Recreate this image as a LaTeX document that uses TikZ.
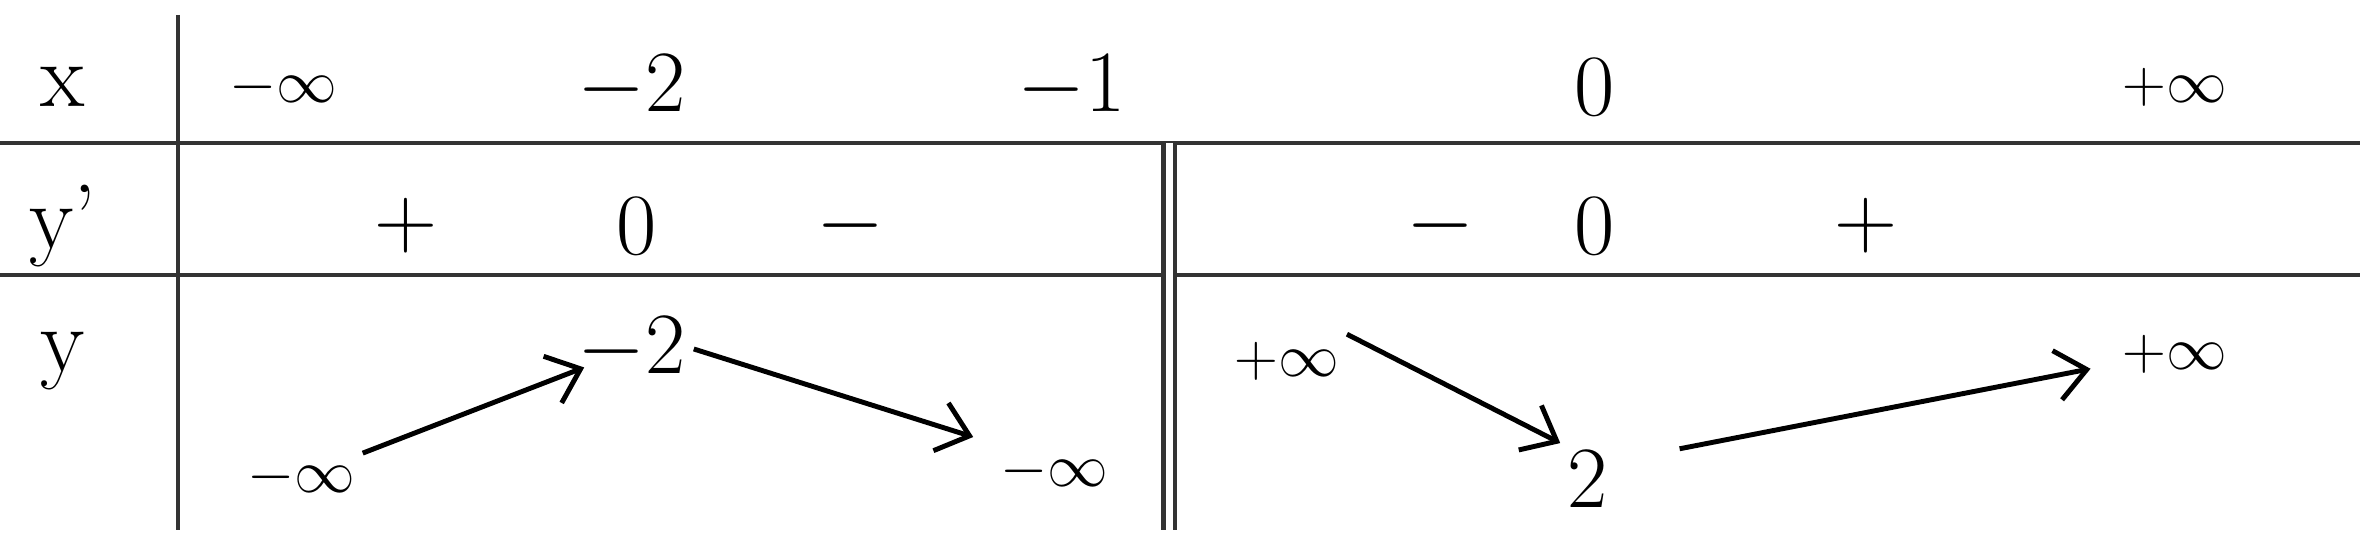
\documentclass[tikz,border=0pt]{standalone}
\usetikzlibrary{arrows.meta}
\begin{document}
\begin{tikzpicture}[x=0.1mm,y=-0.1mm,
  every node/.style={font=\fontsize{26}{30}\selectfont,inner sep=2pt},
  inf/.style={font=\fontsize{19}{23}\selectfont},
  grid/.style={line width=1.2pt,black!80},
  var/.style={-{Straight Barb[length=3mm,width=5mm]},line width=1.4pt}]
\useasboundingbox (0,0) rectangle (2360,555);

% table lines
\draw[grid] (0,143)--(2360,143);
\draw[grid] (0,275)--(2360,275);
\draw[grid] (178,15)--(178,530);
\draw[grid,double,double distance=2pt] (1169,143)--(1169,530);

% row x
\node (lx) at (63,87) {x};
\node[inf] (xminf) at (283,87) {$-\infty$};
\node (xm2) at (632,87) {$-2$};
\node (xm1) at (1072,87) {$-1$};
\node (xz) at (1595,87) {$0$};
\node[inf] (xpinf) at (2175,87) {$+\infty$};

% row y'
\node (ld) at (63,226) {y'};
\node (s1) at (406,226) {$+$};
\node (d1) at (637,226) {$0$};
\node (s2) at (850,226) {$-$};
\node (s3) at (1440,226) {$-$};
\node (d2) at (1595,226) {$0$};
\node (s4) at (1866,226) {$+$};

% row y
\node (ly) at (63,361) {y};
\node[inf] (yminf) at (301,477) {$-\infty$};
\node (ymax) at (632,349) {$-2$};
\node[inf] (yleft) at (1054,471) {$-\infty$};
\node[inf] (yright) at (1287,361) {$+\infty$};
\node (ymin) at (1588,479) {$2$};
\node[inf] (ypinf) at (2175,354) {$+\infty$};

\draw[var,shorten >=-1.5mm] (yminf) -- (ymax);
\draw[var,shorten >=2mm] (ymax.east) -- (yleft.north west);
\draw[var] (yright.north east) -- (ymin.north west);
\draw[var,shorten <=6.5mm,shorten >=2.5mm] ([yshift=-1mm]ymin.45) -- ([yshift=-1mm]ypinf.west);

\end{tikzpicture}
\end{document}
